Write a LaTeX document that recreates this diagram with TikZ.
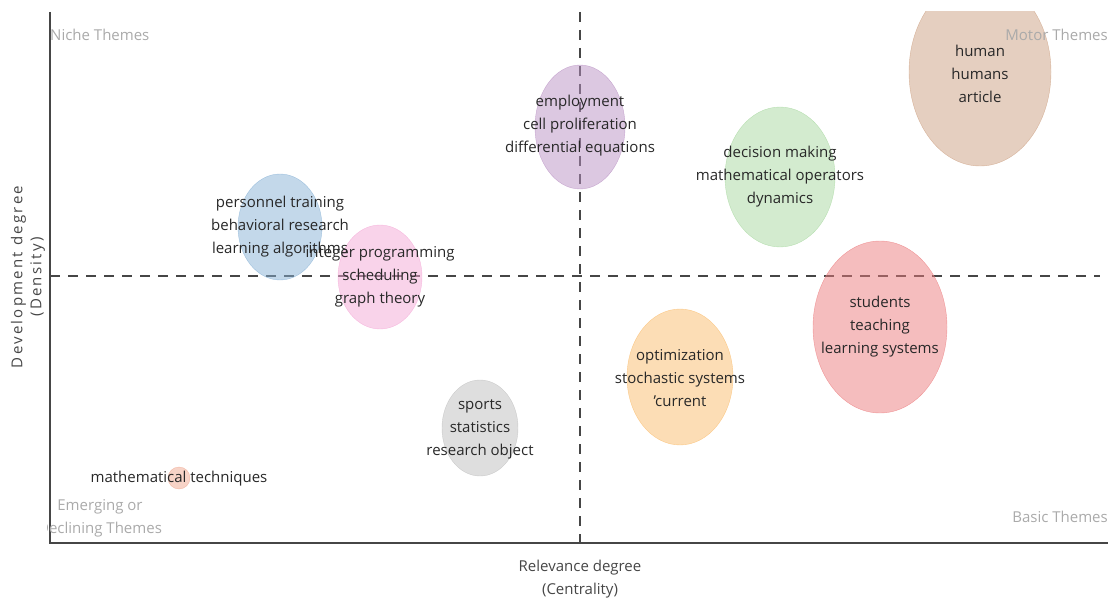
\documentclass[tikz,border=0pt]{standalone}
\usepackage{fontspec}
\setmainfont{Open Sans}
\usetikzlibrary{shapes}
\definecolor{textgray}{RGB}{40,40,40}
\definecolor{quadgray}{RGB}{170,170,170}
\definecolor{axisgray}{RGB}{70,70,70}
\definecolor{cbrown}{RGB}{203,159,129}
\definecolor{cpurple}{RGB}{185,145,195}
\definecolor{cgreen}{RGB}{167,215,159}
\definecolor{cred}{RGB}{235,123,125}
\definecolor{corange}{RGB}{249,187,107}
\definecolor{cgray}{RGB}{189,189,189}
\definecolor{cblue}{RGB}{135,177,213}
\definecolor{cpink}{RGB}{243,167,213}
\definecolor{csalmon}{RGB}{239,167,143}
\newcommand{\myfont}{\fontsize{15}{23}\selectfont}
\tikzset{
    node style bubble/.style={ellipse,draw=#1,draw opacity=0.7,fill=#1,fill opacity=0.5,inner sep=0pt},
    node style topic/.style={align=center,text=textgray,font=\myfont,inner sep=0pt},
    node style quad/.style={text=quadgray,font=\myfont,inner sep=0pt},
    line style axis/.style={draw=axisgray,line width=1.2pt},
    line style mid/.style={draw=axisgray,line width=2pt,dash pattern=on 10pt off 8pt},
}

\begin{document}
\begin{tikzpicture}[x=1pt,y=-1pt]
  \useasboundingbox (0,0) rectangle (1111,599);
  % frame of the map
  \coordinate (ytop) at (50,12);
  \coordinate (origin) at (50,543);
  \coordinate (xend) at (1108,543);
  \coordinate (vtop) at (580,12);
  \coordinate (vbot) at (580,543);
  \coordinate (hleft) at (50,276);
  \coordinate (hright) at (1100,276);
  \draw [line style mid] (vtop) -- (vbot);
  \draw [line style mid] (hleft) -- (hright);
  \draw [line style axis] (ytop) -- (origin) -- (xend);

  % clusters
  \begin{scope}
    \clip (50,12) rectangle (1108,543);
    \node [node style bubble=cbrown,minimum width=142pt,minimum height=188pt] (human) at (980,72) {};
    \node [node style bubble=cpurple,minimum width=90pt,minimum height=124pt] (employ) at (580,127) {};
    \node [node style bubble=cgreen,minimum width=110pt,minimum height=140pt] (decision) at (780,177) {};
    \node [node style bubble=cred,minimum width=134pt,minimum height=172pt] (students) at (880,327) {};
    \node [node style bubble=corange,minimum width=106pt,minimum height=136pt] (optim) at (680,377) {};
    \node [node style bubble=cgray,minimum width=76pt,minimum height=96pt] (sports) at (480,428) {};
    \node [node style bubble=cblue,minimum width=84pt,minimum height=106pt] (personnel) at (280,227) {};
    \node [node style bubble=cpink,minimum width=84pt,minimum height=104pt] (integer) at (380,277) {};
    \node [node style bubble=csalmon,minimum width=22pt,minimum height=22pt] (mathtech) at (179,478) {};
  \end{scope}

  \node [node style topic] (t-human) at ([yshift=-2pt]human.center) {human\\humans\\article};
  \node [node style topic] (t-employ) at ([yshift=1pt]employ.center) {employment\\cell proliferation\\differential equations};
  \node [node style topic] (t-decision) at (decision.center) {decision making\\mathematical operators\\dynamics};
  \node [node style topic] (t-students) at (students.center) {students\\teaching\\learning systems};
  \node [node style topic] (t-optim) at ([yshift=-1pt]optim.center) {optimization\\stochastic systems\\'current};
  \node [node style topic] (t-sports) at ([yshift=-1pt]sports.center) {sports\\statistics\\research object};
  \node [node style topic] (t-personnel) at (personnel.center) {personnel training\\behavioral research\\learning algorithms};
  \node [node style topic] (t-integer) at (integer.center) {integer programming\\scheduling\\graph theory};
  \node [node style topic] (t-mathtech) at ([yshift=-1pt]mathtech.center) {mathematical techniques};

  % quadrant names
  \node [node style quad,anchor=west] (niche) at (50,35) {Niche Themes};
  \node [node style quad,anchor=east] (motor) at (1108,35) {Motor Themes};
  \node [node style quad,anchor=east] (basic) at (1108,517) {Basic Themes};
  \begin{scope}
    \clip (47,490) rectangle (200,545);
    \node [node style quad,align=center] (emerging) at (100,518) {Emerging or\\Declining Themes};
  \end{scope}

  % axis titles
  \node [node style topic,text=axisgray] (xtitle) at (580,579) {Relevance degree\\(Centrality)};
  \node [node style topic,text=axisgray,rotate=90,font=\fontsize{15}{19}\selectfont\addfontfeatures{LetterSpace=15}] (ytitle) at (28,277) {Development degree\\(Density)};
\end{tikzpicture}
\end{document}
